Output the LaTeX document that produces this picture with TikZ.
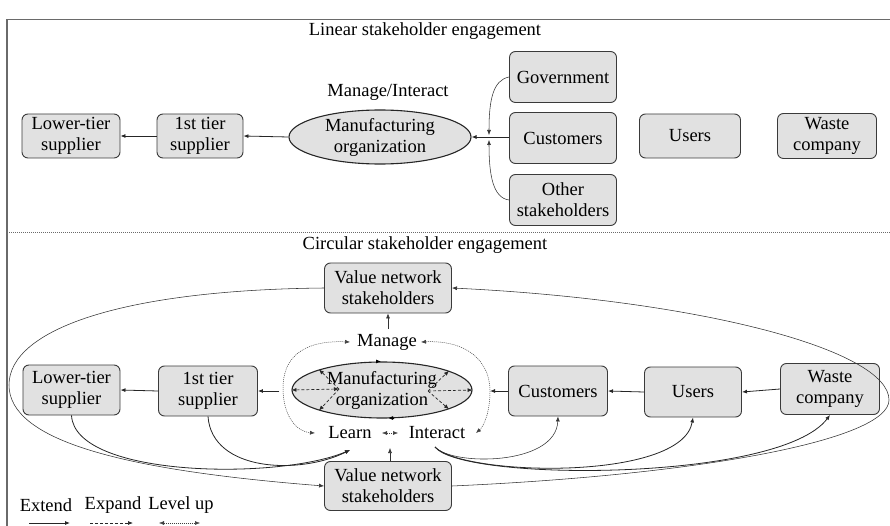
\documentclass[tikz,border=0pt]{standalone}
\usepackage{fontspec}
\setmainfont{Liberation Serif}
\usetikzlibrary{arrows.meta,shapes.geometric}
\definecolor{boxfill}{HTML}{E1E1E1}
\definecolor{boxline}{HTML}{3A3A3A}
\definecolor{framecol}{HTML}{6A6A6A}
\begin{document}
\begin{tikzpicture}[x=1pt,y=-1pt,
  txt/.style={font=\fontsize{18.5}{21}\selectfont, align=center, inner sep=0pt},
  boxshape/.style={txt, draw=boxline, fill=boxfill, rounded corners=6pt, line width=0.9pt},
  orgshape/.style={txt, ellipse, draw=black!85, fill=boxfill, line width=1.1pt, inner sep=0pt},
  ahead/.style={-{Latex[length=5pt,width=4pt]}},
  extline/.style={ahead, line width=0.8pt, black!85},
  thinline/.style={ahead, line width=0.55pt, black!80},
  expline/.style={ahead, line width=0.7pt, black!85, dash pattern=on 3pt off 2pt},
  dblexp/.style={{Latex[length=5pt,width=4pt]}-{Latex[length=5pt,width=4pt]}, line width=0.7pt, black!85, dash pattern=on 3pt off 2pt},
  lvline/.style={{Latex[length=5pt,width=4pt]}-{Latex[length=5pt,width=4pt]}, line width=0.5pt, black!75, dash pattern=on 1pt off 1pt},
]
\useasboundingbox (0,0) rectangle (890,526);
% frame
\draw[framecol, line width=1.2pt] (7,526) -- (7,19.5) -- (890,19.5);
\draw[framecol, line width=0.6pt, dash pattern=on 1pt off 1pt] (7,232) -- (890,232);

% ---------- Linear ----------
\node[txt] (tlin) at (425,31) {Linear stakeholder engagement};
\node[txt] (tmi) at (388,92) {Manage/Interact};
\node[boxshape, minimum width=98pt, minimum height=44pt] (tLow) at (71,136) {Lower-tier\\supplier};
\node[boxshape, minimum width=86pt, minimum height=44pt] (tFirst) at (200,136) {1st tier\\supplier};
\node[orgshape, minimum width=182pt, minimum height=54pt] (tMan) at (380,137) {Manufacturing\\organization};
\node[boxshape, minimum width=107pt, minimum height=51pt] (tGov) at (563,77) {Government};
\node[boxshape, minimum width=107pt, minimum height=51pt] (tCus) at (563,138) {Customers};
\node[boxshape, minimum width=107pt, minimum height=51pt] (tOth) at (563,200) {Other\\stakeholders};
\node[boxshape, minimum width=101pt, minimum height=44pt] (tUsers) at (690,136) {Users};
\node[boxshape, minimum width=99pt, minimum height=45pt] (tWaste) at (827,136) {Waste\\company};
\coordinate (J1) at (489,135);
\coordinate (J2) at (489,140);
\draw[extline] (tMan.west) -- (tFirst.east);
\draw[extline] (tFirst.west) -- (tLow.east);
\draw[extline] (tCus.west |- tMan.east) -- (tMan.east);
\draw[thinline] (tGov.west) .. controls (493,80) and (489,100) .. (J1);
\draw[thinline] (tOth.west) .. controls (493,198) and (489,175) .. (J2);

% ---------- Circular ----------
\node[txt] (tcirc) at (425,245) {Circular stakeholder engagement};
\node[boxshape, minimum width=127pt, minimum height=50pt] (vTop) at (388,288) {Value network\\stakeholders};
\node[txt] (manage) at (387,342) {Manage};
\node[orgshape, minimum width=180pt, minimum height=56pt] (cMan) at (382,390) {Manufacturing\\organization};
\node[boxshape, minimum width=97pt, minimum height=50pt] (cLow) at (71.5,390) {Lower-tier\\supplier};
\node[boxshape, minimum width=99pt, minimum height=50pt] (cFirst) at (208,391) {1st tier\\supplier};
\node[boxshape, minimum width=99pt, minimum height=50pt] (cCus) at (558,391) {Customers};
\node[boxshape, minimum width=97pt, minimum height=50pt] (cUsers) at (693,392) {Users};
\node[boxshape, minimum width=99pt, minimum height=51pt] (cWaste) at (830,389) {Waste\\company};
\node[txt] (learn) at (350,433) {Learn};
\node[txt] (interact) at (437,433) {Interact};
\node[boxshape, minimum width=127pt, minimum height=49pt] (vBot) at (388,486) {Value network\\stakeholders};

% coordinates for connector free ends
\coordinate (mgL) at (350,342);
\coordinate (mgR) at (421,342);
\coordinate (mgB) at (388,329);
\coordinate (lnL) at (315,433);
\coordinate (itR) at (476,433);
\coordinate (liA) at (382,433);
\coordinate (liB) at (398,433);
\coordinate (liC) at (390,448);
\coordinate (lnT) at (350,450);
\coordinate (itB) at (435,447);
\coordinate (dotR) at (490,391);
\coordinate (cl) at (339,389);
\coordinate (cr) at (428,391);
\coordinate (bigL) at (9,385);
\coordinate (bigR) at (889,400);

% main chain
\draw[extline] (cCus.west) -- (dotR);
\draw[extline] (cUsers.west) -- (cCus.east);
\draw[extline] (cWaste.west) -- (cUsers.east);
\draw[extline] (cFirst.east -| cMan.west) ++(-12,0) -- (cFirst.east);
\draw[extline] (cFirst.west) -- (cLow.east);

% manage / learn / interact
\draw[thinline] (mgB) -- (vTop.south);
\draw[thinline] (vBot.north -| liC) -- (liC);
\draw[lvline] (liA) -- (liB);
\draw[lvline] (mgL) .. controls (300,340) and (283,360) .. (283,388) .. controls (283,418) and (298,432) .. (lnL);
\draw[lvline] (mgR) .. controls (468,340) and (490,362) .. (dotR) .. controls (490,412) and (484,426) .. (itR);

% ellipse internal expansion arrows
\draw[dblexp] (cl) -- (cMan.west);
\draw[expline] (cl) -- (cMan.162);
\draw[expline] (cl) -- (cMan.198);
\draw[expline] (cr) -- (cMan.east);
\draw[expline] (cr) -- (cMan.16);
\draw[expline] (cr) -- (cMan.-16);
\draw[ahead, line width=0.8pt] ([xshift=-6pt]cMan.north) -- ([xshift=-1pt]cMan.north);
\draw[ahead, line width=0.8pt] ([xshift=12pt,yshift=0.5pt]cMan.south) -- ([xshift=6pt,yshift=0.5pt]cMan.south);

% feedback curves
\draw[extline] (cLow.south) .. controls (75,478) and (280,480) .. (lnT);
\draw[extline] (cFirst.south) .. controls (212,472) and (300,475) .. (lnT);
\draw[thinline] (itB) .. controls (452,466) and (556,466) .. (cCus.south);
\draw[extline] (itB) .. controls (462,476) and (682,482) .. (cUsers.south);
\draw[extline] (itB) .. controls (462,482) and (780,482) .. (cWaste.south);

% big loop
\draw[thinline] (vTop.west) .. controls (120,290) and (9,330) .. (bigL) .. controls (9,440) and (120,470) .. (vBot.west);
\draw[thinline] (vBot.east) .. controls (700,475) and (889,440) .. (bigR) .. controls (889,350) and (700,300) .. (vTop.east);

% legend
\node[txt] (lgExt) at (46,505) {Extend};
\node[txt] (lgExp) at (113,505) {Expand};
\node[txt] (lgLvl) at (181,505) {Level up};
\coordinate (e1) at (29,523); \coordinate (e2) at (70,523);
\coordinate (x1) at (90,523); \coordinate (x2) at (133,523);
\coordinate (l1) at (159,523); \coordinate (l2) at (200,523);
\draw[extline] (e1) -- (e2);
\draw[expline] (x1) -- (x2);
\draw[lvline] (l1) -- (l2);
\end{tikzpicture}
\end{document}
